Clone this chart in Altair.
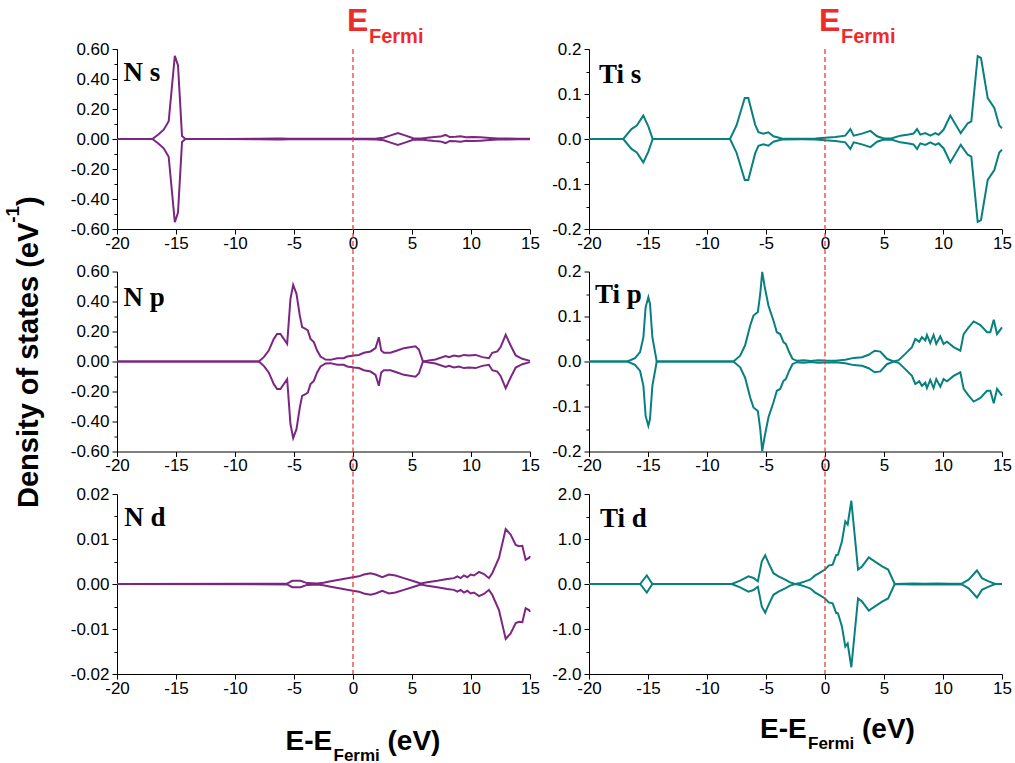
import altair as alt
import pandas as pd

# ---------------- data (spin-up DOS; spin-down is its mirror image) ----------------
ns_E = [-20, -17.0, -16.5, -16.04, -15.62, -15.1, -14.83, -14.49, -14.2, -11, -8, -6.5, -6, -5.5, -3, -1, 0, 1, 2,
        2.6, 3.2, 3.8, 4.4, 5.1, 5.8, 6.3, 6.9, 7.4, 7.85, 8.2, 8.7, 9.1, 9.6, 10.2, 10.8, 11.6, 12.3, 13.0, 14.0, 15.0]
ns_D = [0, 0, 0.03, 0.062, 0.118, 0.555, 0.49, 0.02, 0.0, 0.0, 0.001, 0.003, 0.004, 0.002, 0.001, 0.001, 0.002, 0.002, 0.003,
        0.008, 0.024, 0.04, 0.024, 0.005, 0.003, 0.009, 0.014, 0.016, 0.027, 0.013, 0.015, 0.018, 0.011, 0.013, 0.011, 0.007, 0.004, 0.004, 0.002, 0.002]

tis_E = [-20, -17.1, -16.4, -15.95, -15.4, -14.97, -14.6, -8.05, -7.5, -6.8, -6.5, -5.92, -5.64, -5.22, -4.8, -4.37, -3.66, -2.0,
         -0.8, 0, 0.88, 1.72, 2.15, 2.43, 3.14, 3.85, 4.41, 4.98, 5.68, 6.39, 7.1, 7.5, 7.8, 8.08, 8.5, 8.93, 9.35, 9.63, 10.06,
         10.62, 11.5, 12.1, 12.4, 12.94, 13.22, 13.79, 14.35, 14.77, 15.0]
tis_D = [0, 0, 0.022, 0.030, 0.052, 0.028, 0, 0, 0.03, 0.091, 0.091, 0.032, 0.015, 0.012, 0.015, 0.006, 0.001, 0.0008,
         0.001, 0.003, 0.0045, 0.0074, 0.022, 0.0074, 0.012, 0.018, 0.006, 0.001, 0.0015, 0.0074, 0.01, 0.012, 0.022, 0.0096,
         0.013, 0.0074, 0.013, 0.0096, 0.021, 0.052, 0.013, 0.035, 0.039, 0.184, 0.18, 0.091, 0.069, 0.03, 0.024]

np_E = [-20, -7.98, -7.56, -7.14, -6.71, -6.43, -6.15, -5.58, -5.3, -5.07, -4.79, -4.51, -4.31, -4.03, -3.83, -3.6, -3.32,
        -3.04, -2.75, -2.33, -1.91, -1.34, -0.78, -0.49, 0.07, 0.5, 0.92, 1.49, 1.91, 2.19, 2.39, 2.62, 3.18, 3.75, 4.31,
        5.3, 5.58, 5.93, 6.43, 6.99, 7.85, 8.13, 8.56, 8.98, 9.4, 9.83, 10.39, 10.96, 11.52, 11.8, 12.23, 12.51, 12.94,
        13.36, 13.79, 14.35, 15.0]
np_D = [0, 0, 0.029, 0.073, 0.151, 0.184, 0.184, 0.118, 0.418, 0.511, 0.451, 0.307, 0.229, 0.218, 0.207, 0.151, 0.129,
        0.073, 0.033, 0.013, 0.011, 0.022, 0.022, 0.033, 0.04, 0.044, 0.058, 0.067, 0.089, 0.162, 0.073, 0.058, 0.058, 0.073,
        0.089, 0.102, 0.08, 0.0, 0.007, 0.013, 0.036, 0.029, 0.04, 0.033, 0.044, 0.04, 0.044, 0.029, 0.022, 0.058, 0.067,
        0.096, 0.178, 0.107, 0.04, 0.018, 0.004]

tip_E = [-20, -16.75, -16.1, -15.67, -15.39, -15.2, -14.97, -14.83, -14.63, -14.26, -7.76, -7.19, -6.77, -6.34, -6.06,
         -5.69, -5.49, -5.32, -5.13, -4.79, -4.37, -4.08, -3.8, -3.52, -3.32, -3.04, -2.76, -2.39, -1.8, -1.2, -0.6, 0,
         0.88, 1.72, 2.43, 3.14, 3.7, 4.21, 4.69, 5.25, 5.82, 6.24, 6.8, 7.37, 7.65, 7.99, 8.21, 8.5, 8.64, 8.92, 9.2,
         9.43, 9.77, 10.05, 10.34, 10.9, 11.47, 11.75, 12.17, 12.6, 13.17, 13.73, 14.01, 14.3, 14.58, 15.0]
tip_D = [0, 0, 0.0074, 0.021, 0.054, 0.121, 0.143, 0.128, 0.054, 0, 0, 0.013, 0.036, 0.08, 0.102,
         0.11, 0.15, 0.199, 0.169, 0.124, 0.091, 0.065, 0.061, 0.043, 0.039, 0.021, 0.006, 0.0015, 0.003, 0.001, 0.003, 0.002,
         0.0015, 0.0037, 0.008, 0.0096, 0.015, 0.024, 0.022, 0.006, 0, 0.003, 0.017, 0.032, 0.05, 0.044, 0.054, 0.047,
         0.059, 0.041, 0.059, 0.039, 0.056, 0.039, 0.044, 0.032, 0.024, 0.061, 0.076, 0.089, 0.081, 0.065, 0.065, 0.093,
         0.061, 0.076]

nd_E = [-20, -5.58, -5.16, -4.45, -3.9, -3.04, -2.5, -1.9, -1.06, -0.49, 0, 0.5, 0.92, 1.49, 1.91, 2.48, 3.04, 3.6, 4.31,
        5.16, 5.73, 6.29, 7.14, 7.99, 8.56, 8.84, 9.12, 9.4, 9.69, 9.97, 10.25, 10.68, 11.1, 11.52, 11.8, 12.37, 12.94,
        13.36, 13.79, 14.07, 14.35, 14.63, 14.92, 15.0]
nd_D = [0, 0.0001, 0.0007, 0.0007, 0.0002, 0.0001, 0.0003, 0.0006, 0.001, 0.0013, 0.0015, 0.0017, 0.0021, 0.0024, 0.0021,
        0.0015, 0.0021, 0.0019, 0.0013, 0.0006, 0.0001, 0.0004, 0.0007, 0.0011, 0.0013, 0.0017, 0.0013, 0.0019, 0.0015,
        0.0021, 0.0019, 0.0027, 0.0022, 0.0013, 0.0024, 0.0058, 0.0122, 0.011, 0.0087, 0.0084, 0.0085, 0.0054, 0.0058, 0.0062]

tid_E = [-20, -15.67, -15.1, -14.63, -7.9, -7.19, -6.49, -6.06, -5.69, -5.36, -5.07, -4.79, -4.37, -3.94, -3.38, -2.96,
         -2.53, -2.1, -1.68, -1.26, -0.83, -0.49, 0, 0.31, 0.65, 0.94, 1.1, 1.44, 1.72, 1.92, 2.23, 2.51, 2.8, 3.14, 3.71,
         4.27, 4.84, 5.35, 5.91, 7.5, 8.5, 9.5, 10.5, 11.6, 12.17, 12.88, 13.3, 13.87, 14.43, 15.0]
tid_D = [0, 0, 0.19, 0, 0, 0.074, 0.17, 0.133, 0.059, 0.5, 0.64, 0.47, 0.24, 0.17, 0.096, 0.037,
         0, 0.022, 0.059, 0.096, 0.19, 0.24, 0.32, 0.41, 0.43, 0.64, 0.65, 0.95, 1.39, 1.32, 1.85,
         1.1, 0.32, 0.39, 0.59, 0.49, 0.39, 0.32, 0, 0.01, 0.005, 0.012, 0.008, 0.01, 0.096, 0.3, 0.13, 0.059, 0, 0]

x_ticks = [-20 + 2.5 * i for i in range(15)]

PURPLE = "#7b2682"
TEAL = "#07807f"
RED = "#ee2b2b"
SANS = "Liberation Sans"
SERIF = "Liberation Serif"

# plot-area geometry (pixels)
LEFT_X, TOP_Y = 117, 49
H = 180
WL, WR = 413, 413
GAP = 42.5
COLGAP = 59
PAGE_W, PAGE_H = 1015, 763
RIGHT_X = LEFT_X + WL + COLGAP
BOTTOM_Y = TOP_Y + 2 * (H + GAP)


def text_layer(s, x, y, size, color="black", font=SANS, angle=0):
    return alt.Chart(pd.DataFrame({"t": [s]})).mark_text(
        font=font, fontWeight="bold", fontSize=size, color=color, align="left",
        baseline="alphabetic", angle=angle
    ).encode(x=alt.value(x), y=alt.value(y), text="t:N")


def pin(x, y):
    # invisible 1px box that fixes the overall drawing bounds
    return alt.Chart(pd.DataFrame({"a": [0]})).mark_rect(opacity=0).encode(
        x=alt.value(x), x2=alt.value(x + 1), y=alt.value(y), y2=alt.value(y + 1))


def panel(E, D, color, ylim, ystep, major, fmt, label, lx, ly, width, rule_len, extras=()):
    n = len(E)
    assert n == len(D), label
    df = pd.DataFrame({"E": list(E) + list(E), "dos": list(D) + [-v for v in D],
                       "spin": ["up"] * n + ["down"] * n})
    nt = int(round(2 * ylim / ystep))
    y_ticks = [round(-ylim + i * ystep, 6) for i in range(nt + 1)]
    ytest = f"abs(datum.value/{major} - round(datum.value/{major})) < 1e-6"
    yaxis = alt.Axis(
        values=y_ticks, title=None, grid=False,
        labelExpr=f"{ytest} ? (datum.value < -1e-9 ? '-' : '') + format(abs(datum.value), '{fmt}') : ''",
        tickSize={"condition": {"test": ytest, "value": 5}, "value": 3},
        labelFont=SANS, labelFontSize=17, labelColor="black", labelPadding=3,
        labelFlush=False, labelOverlap=False, domainColor="black", tickColor="black",
    )
    xtest = "abs(datum.value % 5) < 1e-6"
    xaxis = alt.Axis(
        values=x_ticks, title=None, grid=False,
        labelExpr=f"{xtest} ? '' + datum.value : ''",
        tickSize={"condition": {"test": xtest, "value": 5}, "value": 3},
        labelFont=SANS, labelFontSize=17, labelColor="black", labelPadding=1,
        labelFlush=False, labelOverlap=False, domainColor="black", tickColor="black",
    )
    xs = alt.Scale(domain=[-20, 15], nice=False, zero=False)
    lines = alt.Chart(df).mark_line(color=color, strokeWidth=2, clip=False).encode(
        x=alt.X("E:Q", scale=xs, axis=xaxis),
        y=alt.Y("dos:Q", scale=alt.Scale(domain=[-ylim, ylim], nice=False, zero=False), axis=yaxis),
        detail="spin:N",
    )
    rule = alt.Chart(pd.DataFrame({"E": [0]})).mark_rule(
        color=RED, strokeDash=[5, 3], strokeWidth=1.2
    ).encode(x=alt.X("E:Q", title=None), y=alt.value(0), y2=alt.value(rule_len))
    lab = text_layer(label, lx, ly, 27, font=SERIF)
    return alt.layer(lines, rule, lab, *extras).properties(width=width, height=H)


def fermi_top():
    d = pd.DataFrame({"E": [0], "a": ["E"], "b": ["Fermi"]})
    e1 = alt.Chart(d).mark_text(font=SANS, fontWeight="bold", fontSize=32, color=RED, align="left",
                                baseline="alphabetic", dx=-6).encode(
        x=alt.X("E:Q", title=None), y=alt.value(-18), text="a:N")
    e2 = alt.Chart(d).mark_text(font=SANS, fontWeight="bold", fontSize=20, color=RED, align="left",
                                baseline="alphabetic", dx=16).encode(
        x=alt.X("E:Q", title=None), y=alt.value(-6), text="b:N")
    return [e1, e2]


def xtitle(x0, y0):
    return [text_layer("E-E", x0, y0, 28),
            text_layer("Fermi", x0 + 48, y0 + 11, 17),
            text_layer("(eV)", x0 + 102, y0, 28)]


ytitle = [text_layer("Density of states (eV", -79, 236.5, 29, angle=270),
          text_layer("-1", -98, -48.7, 19, angle=270),
          text_layer(")", -79, -65.6, 29, angle=270)]

p1 = panel(ns_E, ns_D, PURPLE, 0.6, 0.1, 0.2, ".2f", "N s", 6.6, 31.5, WL, H + GAP,
           fermi_top() + [pin(-LEFT_X, -TOP_Y)])
p2 = panel(tis_E, tis_D, TEAL, 0.2, 0.05, 0.1, ".1f", "Ti s", 10, 34, WR, H + GAP, fermi_top())
p3 = panel(np_E, np_D, PURPLE, 0.6, 0.1, 0.2, ".2f", "N p", 6.6, 34, WL, H + GAP, ytitle)
p4 = panel(tip_E, tip_D, TEAL, 0.2, 0.05, 0.1, ".1f", "Ti p", 6, 31, WR, H + GAP)
p5 = panel(nd_E, nd_D, PURPLE, 0.02, 0.005, 0.01, ".2f", "N d", 7.3, 31.5, WL, H, xtitle(168.5, 256))
p6 = panel(tid_E, tid_D, TEAL, 2.0, 0.5, 1.0, ".1f", "Ti d", 11, 32.7, WR, H,
           xtitle(171, 244.3) + [pin(PAGE_W - 1 - RIGHT_X, PAGE_H - 1 - BOTTOM_Y)])

chart = alt.concat(p1, p2, p3, p4, p5, p6, columns=2,
                   spacing={"row": GAP, "column": COLGAP}, bounds="flush").configure_view(
    stroke=None
).properties(background="white", padding={"left": 0, "top": 0, "right": 0, "bottom": 0})

chart.save("out.html", embed_options={"renderer": "svg", "actions": False})
